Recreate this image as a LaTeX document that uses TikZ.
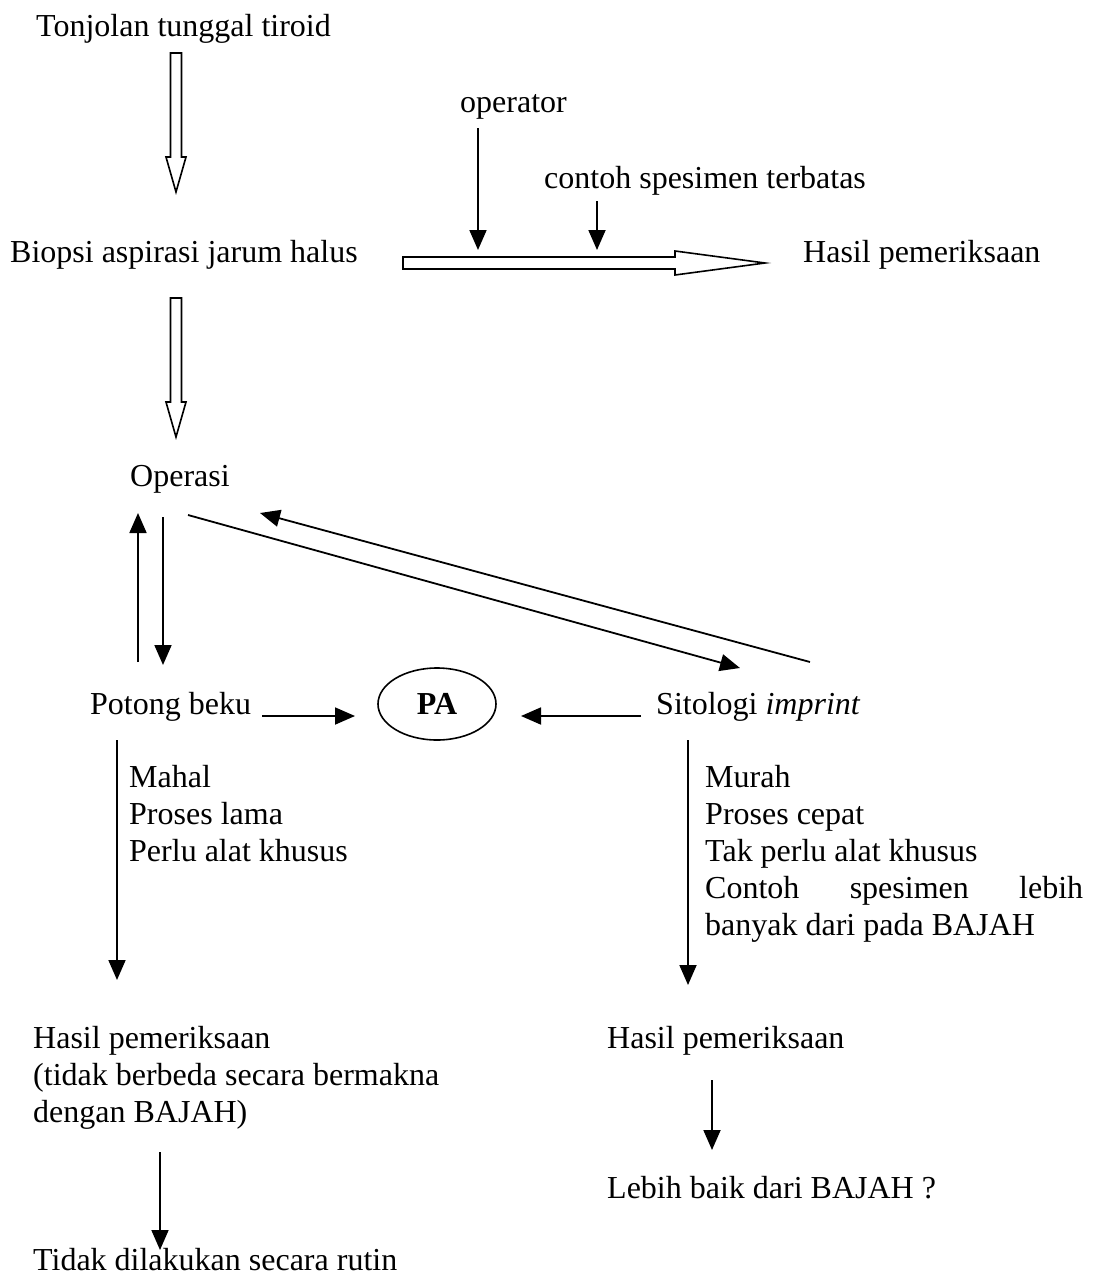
\documentclass[tikz,border=0pt]{standalone}
\usepackage{fontspec}
\setmainfont{Liberation Serif}
\usetikzlibrary{arrows.meta,calc,shapes.geometric}
\begin{document}
\begin{tikzpicture}[x=1pt,y=-1pt,
  txt/.style={anchor=base west,inner sep=0pt,font=\fontsize{32}{37}\selectfont},
  arr/.style={line width=1.8pt,-{Triangle[length=20pt,width=17pt]}},
  hollow/.style={draw,line width=1.6pt,fill=white,line join=miter}]
\useasboundingbox (0,0) rectangle (1095,1277);

% texts
\node[txt] (t1) at (36,36) {Tonjolan tunggal tiroid};
\node[txt] (op) at (460,112) {operator};
\node[txt] (cs) at (544,188) {contoh spesimen terbatas};
\node[txt] (bi) at (10,262) {Biopsi aspirasi jarum halus};
\node[txt] (h1) at (803,262) {Hasil pemeriksaan};
\node[txt] (ops) at (130,486) {Operasi};
\node[txt] (pb) at (90,714) {Potong beku};
\node[txt] (si) at (656,714) {Sitologi \textit{imprint}};
\node[draw,ellipse,line width=1.6pt,minimum width=118pt,minimum height=72pt,
      inner sep=0pt,font=\fontsize{32}{37}\selectfont\bfseries] (pa) at (437,704) {PA};
\node[txt] (m1) at (129,787) {Mahal};
\node[txt] (m2) at (129,824) {Proses lama};
\node[txt] (m3) at (129,861) {Perlu alat khusus};
\node[txt] (r1) at (705,787) {Murah};
\node[txt] (r2) at (705,824) {Proses cepat};
\node[txt] (r3) at (705,861) {Tak perlu alat khusus};
\node[txt] (r4) at (705,898) {\makebox[378pt][s]{Contoh spesimen lebih}};
\node[txt] (r5) at (705,935) {banyak dari pada BAJAH};
\node[txt] (h2a) at (33,1048) {Hasil pemeriksaan};
\node[txt] (h2b) at (33,1085) {(tidak berbeda secara bermakna};
\node[txt] (h2c) at (33,1122) {dengan BAJAH)};
\node[txt] (td) at (33,1270) {Tidak dilakukan secara rutin};
\node[txt] (h3) at (607,1048) {Hasil pemeriksaan};
\node[txt] (lb) at (607,1198) {Lebih baik dari BAJAH ?};

% hollow arrows
\coordinate (ha1) at (176,53);  \coordinate (hb1) at (176,192);
\draw[hollow] ($(ha1)+(-5.5,0)$) -- ($(ha1)+(5.5,0)$) -- ($(hb1)+(5.5,-35)$)
  -- ($(hb1)+(10,-35)$) -- (hb1) -- ($(hb1)+(-10,-35)$) -- ($(hb1)+(-5.5,-35)$) -- cycle;
\coordinate (ha2) at (176,298); \coordinate (hb2) at (176,437);
\draw[hollow] ($(ha2)+(-5.5,0)$) -- ($(ha2)+(5.5,0)$) -- ($(hb2)+(5.5,-35)$)
  -- ($(hb2)+(10,-35)$) -- (hb2) -- ($(hb2)+(-10,-35)$) -- ($(hb2)+(-5.5,-35)$) -- cycle;
\coordinate (hc) at (403,263); \coordinate (hd) at (765,263);
\draw[hollow] ($(hc)+(0,-6)$) -- ($(hd)+(-90,-6)$) -- ($(hd)+(-90,-12)$) -- (hd)
  -- ($(hd)+(-90,12)$) -- ($(hd)+(-90,6)$) -- ($(hc)+(0,6)$) -- cycle;

% solid arrows
\coordinate (opS) at (478,128); \coordinate (opE) at (478,250);
\draw[arr] (opS) -- (opE);
\coordinate (csS) at (597,201); \coordinate (csE) at (597,250);
\draw[arr] (csS) -- (csE);
\coordinate (upS) at (138,662); \coordinate (upE) at (138,513);
\draw[arr] (upS) -- (upE);
\coordinate (dnS) at (163,517); \coordinate (dnE) at (163,665);
\draw[arr] (dnS) -- (dnE);
\coordinate (d1S) at (188,515); \coordinate (d1E) at (740,668);
\draw[arr] (d1S) -- (d1E);
\coordinate (d2S) at (810,662); \coordinate (d2E) at (260,513);
\draw[arr] (d2S) -- (d2E);
\coordinate (pbS) at (262,716); \coordinate (pbE) at (355,716);
\draw[arr] (pbS) -- (pbE);
\coordinate (siS) at (641,716); \coordinate (siE) at (521,716);
\draw[arr] (siS) -- (siE);
\coordinate (lS) at (117,740); \coordinate (lE) at (117,980);
\draw[arr] (lS) -- (lE);
\coordinate (rS) at (688,740); \coordinate (rE) at (688,985);
\draw[arr] (rS) -- (rE);
\coordinate (bS) at (160,1152); \coordinate (bE) at (160,1250);
\draw[arr] (bS) -- (bE);
\coordinate (cS) at (712,1080); \coordinate (cE) at (712,1150);
\draw[arr] (cS) -- (cE);
\end{tikzpicture}
\end{document}
